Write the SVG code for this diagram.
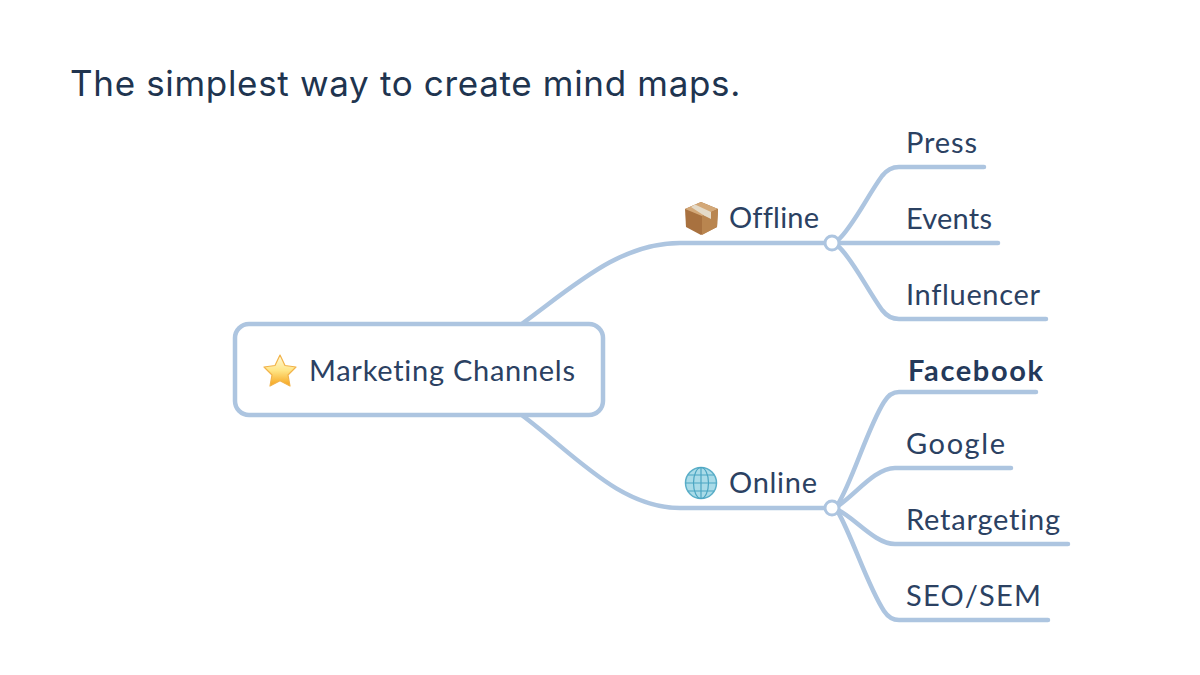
<svg xmlns="http://www.w3.org/2000/svg" width="1200" height="675" viewBox="0 0 1200 675">
<style>
.c{fill:none;stroke:#adc5e0;stroke-width:4.500;stroke-linecap:round}
.t{font-family:"Lato","Liberation Sans",sans-serif;font-size:29px;fill:#2b4162;font-variant-ligatures:none}
.b{font-weight:700;fill:#24395a}
.h{font-family:"Inter","Liberation Sans",sans-serif;font-size:35px;fill:#20344f;letter-spacing:.7px}
</style>
<defs>
<linearGradient id="star" x1="0" y1="0" x2="0" y2="1"><stop offset="0" stop-color="#fffbe0"/><stop offset=".5" stop-color="#ffe585"/><stop offset="1" stop-color="#f5a31c"/></linearGradient>
</defs>
<rect width="1200" height="675" fill="#fff"/>
<text id="title" class="h" x="70" y="96" textLength="671">The simplest way to create mind maps.</text>
<g id="connectors">
<path class="c" d="M523 323C575 285 620 243 680 243H825"/>
<path class="c" d="M523 416C575 455 620 508 680 508H825"/>
<path class="c" d="M838 240C852 228 868 195 882 176Q889 167 899 167H984"/>
<path class="c" d="M838 243H998"/>
<path class="c" d="M838 246C852 258 868 291 882 310Q889 319 899 319H1046"/>
<path class="c" d="M838 504C852 482 868 427 884 402Q890 392 899 392H1036"/>
<path class="c" d="M838 506C855 495 875 468 895 468H1011"/>
<path class="c" d="M838 510C855 518 875 544 895 544H1068"/>
<path class="c" d="M838 512C852 536 868 587 884 611Q890 620 899 620H1048"/>
</g>
<g id="node-root">
<rect x="235" y="324" width="368" height="91" rx="14" fill="#fff" stroke="#adc5e0" stroke-width="4.500"/>
<path d="M280 355L285 365.500 296 367 288 375 290 386 280 380.800 270 386 272 375 264 367 275 365.500Z" fill="url(#star)" stroke="#f2b34a" stroke-width="1.200" stroke-linejoin="round"/>
<text class="t" x="309" y="381" textLength="266">Marketing Channels</text>
</g>
<g id="node-offline">
<path d="M701 202L718 209 717 227 701 235 686 227 685 209Z" fill="#a8713f"/>
<path d="M701 202L718 209 702 216 685 209Z" fill="#d3a878"/>
<path d="M702 216V235L717 227 718 209Z" fill="#b9854f"/>
<path d="M695 204.500L711 212 711 219 704 215.500 691 207Z" fill="#e4dac8"/>
<text class="t" x="729" y="228" textLength="90">Offline</text>
</g>
<g id="node-online">
<circle cx="701" cy="483" r="15.500" fill="#a9dbe8" stroke="#5aaec8" stroke-width="1.500"/>
<g fill="none" stroke="#4ba5c2" stroke-width="1.200">
<ellipse cx="701" cy="483" rx="7.500" ry="15.500"/>
<path d="M701 467.500V498.500M685.500 483H716.500M688 475H714M688 491H714"/>
</g>
<text class="t" x="729" y="493" textLength="88">Online</text>
</g>
<g id="hub-offline"><circle cx="832" cy="243" r="7" fill="#fff" stroke="#adc5e0" stroke-width="3"/></g>
<g id="hub-online"><circle cx="832" cy="508" r="7" fill="#fff" stroke="#adc5e0" stroke-width="3"/></g>
<g id="node-press"><text class="t" x="906" y="153" textLength="71">Press</text></g>
<g id="node-events"><text class="t" x="906" y="229" textLength="86">Events</text></g>
<g id="node-influencer"><text class="t" x="906" y="305" textLength="134">Influencer</text></g>
<g id="node-facebook"><text class="t b" x="908" y="381" textLength="135">Facebook</text></g>
<g id="node-google"><text class="t" x="906" y="454" textLength="99">Google</text></g>
<g id="node-retargeting"><text class="t" x="906" y="530" textLength="154">Retargeting</text></g>
<g id="node-seo"><text class="t" x="906" y="606" textLength="135">SEO/SEM</text></g>
</svg>
